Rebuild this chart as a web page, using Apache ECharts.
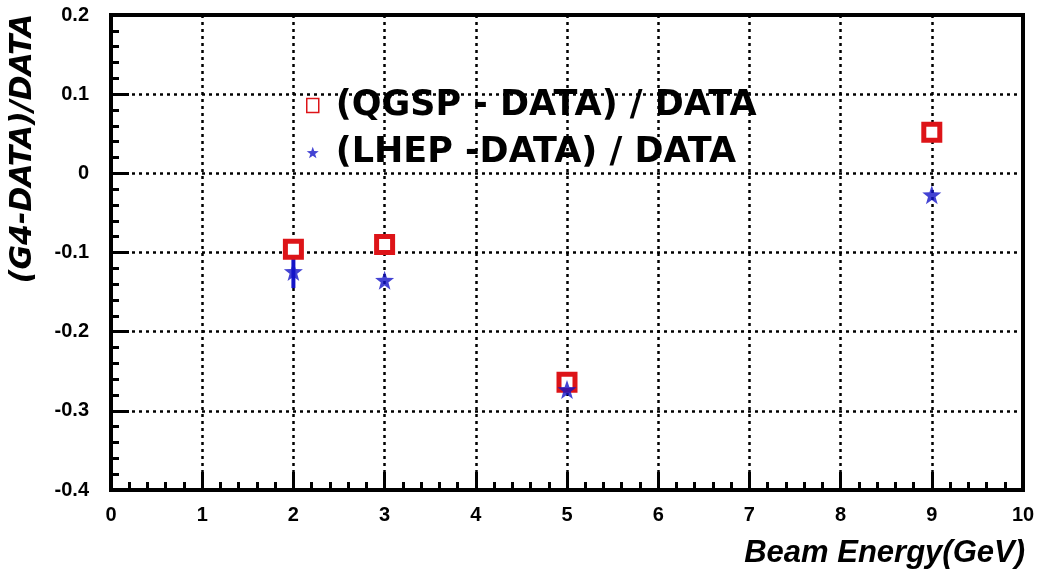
<!DOCTYPE html>
<html><head><meta charset="utf-8">
<script src="https://cdn.jsdelivr.net/npm/echarts@6/dist/echarts.min.js"></script>
<style>html,body{margin:0;padding:0;background:#fff}#c{width:1038px;height:579px}</style>
</head><body><div id="c"></div>
<script>
const energies = [2, 3, 5, 9];
const qgspValues = [-0.096, -0.090, -0.264, 0.052];
const lhepValues = [-0.124, -0.135, -0.273, -0.027];
const lhepErrLow = [-0.145, null, null, null];
const lhepErrHigh = [-0.100, null, null, null];
const seriesNames = ['(QGSP - DATA) / DATA', '(LHEP -DATA) / DATA'];
const xAxisTitle = 'Beam Energy(GeV)';
const yAxisTitle = '(G4-DATA)/DATA';

const RED = '#dd1418', BLUE = '#1414c8';
const STAR = 'path://M0,-10 L2.35,-3.24 L9.51,-3.09 L3.8,1.24 L5.88,8.09 L0,4 L-5.88,8.09 L-3.8,1.24 L-9.51,-3.09 L-2.35,-3.24 Z';

const errData = [];
energies.forEach((x, i) => { if (lhepErrLow[i] != null) errData.push([x, lhepErrLow[i], lhepErrHigh[i]]); });

const chart = echarts.init(document.getElementById('c'));
const axisFont = { fontFamily: 'Liberation Sans', fontWeight: 'bold', fontSize: 20, color: '#000' };
chart.setOption({
  animation: false,
  backgroundColor: '#fff',
  grid: { left: 110, right: 15, top: 15, bottom: 89, show: true, borderColor: '#000', borderWidth: 4, backgroundColor: 'transparent', z: 5 },
  legend: {
    orient: 'vertical', left: 301, top: 83, itemWidth: 12, itemHeight: 14, itemGap: 12,
    textStyle: { fontFamily: 'DejaVu Sans', fontWeight: 'bold', fontSize: 35, color: '#000', padding: [0, 0, 0, 12] },
    data: [
      { name: seriesNames[0], icon: 'rect', itemStyle: { color: '#fff', borderColor: RED, borderWidth: 1.5 } },
      { name: seriesNames[1], icon: STAR, itemStyle: { color: BLUE, borderWidth: 0 } }
    ]
  },
  xAxis: {
    type: 'value', min: 0, max: 10, interval: 1,
    name: xAxisTitle, nameLocation: 'end', nameGap: 2,
    nameTextStyle: { fontFamily: 'Liberation Sans', fontWeight: 'bold', fontStyle: 'italic', fontSize: 31, color: '#000', align: 'right', verticalAlign: 'top', padding: [48, 0, 0, 0] },
    axisLine: { show: true, onZero: false, lineStyle: { color: '#000', width: 4 } },
    axisTick: { show: true, inside: true, length: 18, lineStyle: { color: '#000', width: 3 } },
    minorTick: { show: true, splitNumber: 5, length: 8, lineStyle: { color: '#000', width: 3 } },
    axisLabel: Object.assign({ margin: 15 }, axisFont),
    splitLine: { show: true, lineStyle: { color: '#000', type: [3, 4], width: 2.5 } }
  },
  yAxis: {
    type: 'value', min: -0.4, max: 0.2, interval: 0.1,
    name: yAxisTitle, nameLocation: 'middle', nameGap: 73, nameRotate: 90,
    nameTextStyle: { fontFamily: 'DejaVu Sans', fontWeight: 'bold', fontStyle: 'italic', fontSize: 30, color: '#000', padding: [0, 0, 0, 208] },
    axisLine: { show: true, onZero: false, lineStyle: { color: '#000', width: 4 } },
    axisTick: { show: true, inside: true, length: 18, lineStyle: { color: '#000', width: 3 } },
    minorTick: { show: true, splitNumber: 5, length: 8, lineStyle: { color: '#000', width: 3 } },
    axisLabel: Object.assign({ margin: 22, formatter: v => Math.abs(v) < 1e-9 ? '0' : v.toFixed(1) }, axisFont),
    splitLine: { show: true, lineStyle: { color: '#000', type: [3, 4], width: 2.5 } }
  },
  series: [
    {
      name: seriesNames[0], type: 'scatter', symbol: 'rect', symbolSize: 16, z: 3,
      itemStyle: { color: '#fff', borderColor: RED, borderWidth: 5, opacity: 1 },
      data: energies.map((x, i) => [x, qgspValues[i]])
    },
    {
      name: 'lhepErr', type: 'custom', z: 3,
      renderItem: (params, api) => {
        const a = api.coord([api.value(0), api.value(1)]);
        const b = api.coord([api.value(0), api.value(2)]);
        return { type: 'line', shape: { x1: a[0], y1: a[1], x2: b[0], y2: b[1] }, style: { stroke: BLUE, lineWidth: 4 } };
      },
      encode: { x: 0, y: [1, 2] },
      data: errData
    },
    {
      name: seriesNames[1], type: 'scatter', symbol: STAR, symbolSize: 19, z: 4,
      itemStyle: { color: BLUE },
      data: energies.map((x, i) => [x, lhepValues[i]])
    }
  ]
});
</script></body></html>
